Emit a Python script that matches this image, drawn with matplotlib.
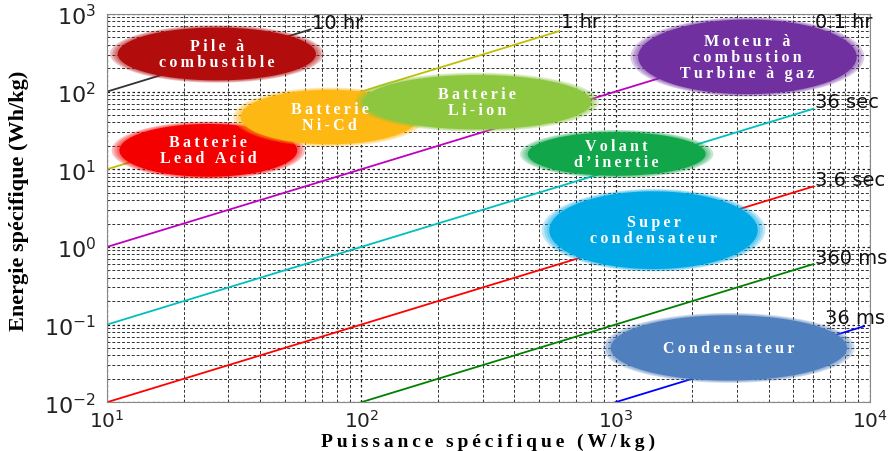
"""Diagramme de Ragone : énergie spécifique vs puissance spécifique."""
import matplotlib
matplotlib.use("Agg")
import matplotlib.pyplot as plt
import numpy as np

# Droites de temps constant (points de début / fin)
line_labels = ["10 hr", "1 hr", "0.1 hr", "36 sec", "3.6 sec", "360 ms", "36 ms"]
line_p_start = [10, 10, 10, 10, 10, 100, 1000]
line_e_start = [100, 10, 1, 0.1, 0.01, 0.01, 0.01]
line_p_end = [63, 600, 6000, 6000, 6000, 6000, 9500]
line_e_end = [630, 600, 600, 60, 6, 0.6, 0.095]
line_colors = ["#333333", "#BFBF00", "#BF00BF", "#00BFBF", "#FF0000", "#008000", "#0000FF"]
label_offsets = [(1, 5), (1, 7), (1, 7), (1, 5), (1, 5), (1, 5), (-28, 6)]

# Zones technologiques : centre (W/kg, Wh/kg), largeur / hauteur en décades
tech_names = [
    "Batterie\nLead Acid",
    "Batterie\nNi-Cd",
    "Batterie\nLi-ion",
    "Pile à\ncombustible",
    "Moteur à\ncombustion\nTurbine à gaz",
    "Volant\nd’inertie",
    "Super\ncondensateur",
    "Condensateur",
]
tech_p = [25, 75, 285, 27, 3300, 1010, 1410, 2790]
tech_e = [17.5, 47, 73, 305, 280, 15.7, 1.64, 0.05]
tech_w = [0.70, 0.70, 0.90, 0.78, 0.86, 0.70, 0.82, 0.93]
tech_h = [0.68, 0.70, 0.70, 0.68, 0.96, 0.56, 1.00, 0.84]
tech_colors = ["#F50000", "#FDB813", "#8DC63F", "#B30C0C", "#7030A0", "#12A64A", "#00A9E6", "#4F7FBD"]

THIN = "\u2009"


def spaced(s):
    return "\n".join(THIN.join(line) for line in s.split("\n"))


def ellipse_fill(ax, pc, ec, w, h, color, **kw):
    t = np.linspace(0, 2 * np.pi, 200)
    px = pc * 10 ** (w / 2 * np.cos(t))
    ey = ec * 10 ** (h / 2 * np.sin(t))
    ax.fill(px, ey, color=color, lw=0, **kw)


fig = plt.figure(figsize=(8.93, 4.52), dpi=100)
ax = fig.add_axes([0.12, 0.108, 0.854, 0.859])
ax.set_xscale("log")
ax.set_yscale("log")
ax.set_xlim(10, 1e4)
ax.set_ylim(1e-2, 1e3)

ax.grid(True, which="major", color="#222222", linestyle=(0, (2, 2)), linewidth=0.9)
ax.grid(True, which="minor", color="#333333", linestyle=(0, (3, 2)), linewidth=0.7)
ax.set_axisbelow(True)
ax.tick_params(which="both", length=0, colors="#222222")
ax.tick_params(axis="y", pad=8, labelsize=16)
ax.tick_params(axis="x", pad=5, labelsize=14.5)
for s in ax.spines.values():
    s.set_color("#888888")

for i, lab in enumerate(line_labels):
    ax.plot([line_p_start[i], line_p_end[i]], [line_e_start[i], line_e_end[i]],
            color=line_colors[i], lw=1.3, zorder=2)
    ax.annotate(lab, (line_p_end[i], line_e_end[i]), xytext=label_offsets[i],
                textcoords="offset points", ha="left", va="center",
                fontsize=14, family="DejaVu Sans", color="#111111",
                annotation_clip=False, zorder=5)

for i, name in enumerate(tech_names):
    z = 3 + i * 0.1
    for d in [0.06, 0.04, 0.02]:
        ellipse_fill(ax, tech_p[i], tech_e[i], tech_w[i] + d, tech_h[i] + d,
                     tech_colors[i], alpha=0.25, zorder=z)
    ellipse_fill(ax, tech_p[i], tech_e[i], tech_w[i], tech_h[i], tech_colors[i],
                 zorder=z + 0.01)
    ax.text(tech_p[i], tech_e[i], spaced(name), ha="center", va="center", color="white",
            fontsize=11.5, fontweight="bold", family="Liberation Serif",
            linespacing=1.0, zorder=10)

ax.set_xlabel(spaced("Puissance spécifique (W/kg)"), fontsize=14, fontweight="bold",
              family="Liberation Serif", va="center")
ax.xaxis.set_label_coords(0.5, -0.102)
ax.set_ylabel("Energie spécifique (Wh/kg)", fontsize=16, fontweight="bold",
              family="Liberation Serif", va="center")
ax.yaxis.set_label_coords(-0.115, 0.52)

fig.savefig("out.png", dpi=100, facecolor="white")
